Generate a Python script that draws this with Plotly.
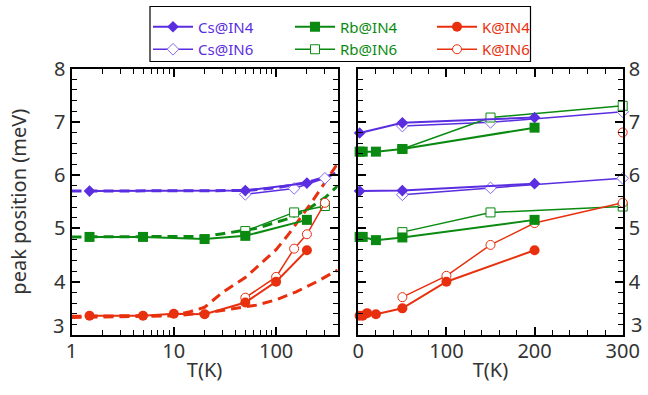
import plotly.graph_objects as go
import math

# ---------------- data ----------------
# Left panel (log T axis)
cs4_L_T = [1.5, 50, 200];                 cs4_L_v = [5.70, 5.71, 5.85]
cs6_L_T = [50, 150, 300];                 cs6_L_v = [5.64, 5.75, 5.94]
rb4_L_T = [1.5, 5, 20, 50, 200];          rb4_L_v = [4.84, 4.84, 4.80, 4.86, 5.16]
rb6_L_T = [50, 150, 300];                 rb6_L_v = [4.95, 5.30, 5.42]
k4_L_T = [1.5, 5, 10, 20, 50, 100, 200];  k4_L_v = [3.36, 3.36, 3.40, 3.39, 3.61, 4.00, 4.59]
k6_L_T = [50, 100, 150, 200, 300];        k6_L_v = [3.70, 4.09, 4.62, 4.89, 5.48]

# Left panel model curves (dashed)
csD_T = [1, 20, 50, 100, 200, 300, 400];                 csD_v = [5.70, 5.70, 5.71, 5.76, 5.86, 5.96, 6.05]
rbD_T = [1, 10, 20, 30, 64, 135, 200, 307, 400];         rbD_v = [4.84, 4.84, 4.85, 4.90, 5.00, 5.19, 5.35, 5.59, 5.80]
kA_T = [1, 10, 14, 20, 30, 50, 70, 100, 135, 230, 400];  kA_v = [3.35, 3.37, 3.43, 3.52, 3.80, 4.08, 4.33, 4.60, 4.91, 5.53, 6.22]
kB_T = [1, 10, 20, 30, 64, 100, 157, 250, 400];          kB_v = [3.33, 3.36, 3.41, 3.46, 3.56, 3.66, 3.81, 4.00, 4.22]

# Right panel (linear T axis)
cs4_R_T = [1.5, 50, 200];                 cs4_R_v = [5.70, 5.71, 5.84]
cs6_R_T = [50, 150, 300];                 cs6_R_v = [5.63, 5.76, 5.94]
cs4b_R_T = [1.5, 50, 200];                cs4b_R_v = [6.79, 6.98, 7.08]
cs6b_R_T = [50, 150, 300];                cs6b_R_v = [6.92, 6.99, 7.19]
rb4_R_T = [1.5, 5, 20, 50, 200];          rb4_R_v = [4.84, 4.84, 4.78, 4.83, 5.16]
rb6_R_T = [50, 150, 300];                 rb6_R_v = [4.93, 5.30, 5.41]
rb4b_R_T = [1.5, 5, 20, 50, 200];         rb4b_R_v = [6.44, 6.44, 6.44, 6.49, 6.89]
rb6b_R_T = [50, 150, 300];                rb6b_R_v = [6.49, 7.08, 7.30]
k4_R_T = [1.5, 5, 10, 20, 50, 100, 200];  k4_R_v = [3.36, 3.36, 3.41, 3.39, 3.50, 4.00, 4.59]
k6_R_T = [50, 100, 150, 200, 300];        k6_R_v = [3.71, 4.11, 4.69, 5.10, 5.48]
k6b_R_T = [300];                          k6b_R_v = [6.80]

# tick labels
y_ticks = [3, 4, 5, 6, 7, 8]
y_ticklabels = ["3", "4", "5", "6", "7", "8"]
xlog_ticks = [1, 10, 100]
xlog_ticklabels = ["1", "10", "100"]
xlin_ticks = [0, 100, 200, 300]
xlin_ticklabels = ["0", "100", "200", "300"]

# ---------------- styles ----------------
PUR = "#5a2ee0"
PUR_L = "#8468ee"
GRN = "#0b8a12"
RED = "#e8300e"
FONT = "Noto Sans"
TXT = "#333333"
LEG = {"Cs": "legend", "Rb": "legend2", "K": "legend3"}

fig = go.Figure()

def add(x, y, name, color, symbol, size, xa, ya, filled, legend=False, rank=0,
        mode="lines+markers", lw=2, mcolor=None):
    mc = mcolor or color
    marker = dict(symbol=symbol, size=size,
                  color=mc if filled else "white",
                  line=dict(color=mc, width=0 if filled else 1))
    fig.add_trace(go.Scatter(
        x=x, y=y, mode=mode, xaxis=xa, yaxis=ya,
        line=dict(color=color, width=lw),
        marker=marker, cliponaxis=False,
        name=f"<span style='color:{color}'>{name}</span>",
        legend=LEG[name.split("@")[0]],
        showlegend=legend, legendrank=rank, hoverinfo="x+y"))

def dashed(x, y, color, xa="x", ya="y"):
    fig.add_trace(go.Scatter(x=x, y=y, mode="lines", xaxis=xa, yaxis=ya,
                             line=dict(color=color, width=3, dash="10px,6px"),
                             showlegend=False, hoverinfo="skip"))

# dashed model curves (left)
dashed(csD_T, csD_v, PUR)
dashed(rbD_T, rbD_v, GRN)
dashed(kA_T, kA_v, RED)
dashed(kB_T, kB_v, RED)

# left panel data: open first, then filled
add(cs6_L_T, cs6_L_v, "Cs@IN6", PUR, "diamond", 9, "x", "y", False, True, 2, lw=1.5, mcolor=PUR_L)
add(rb6_L_T, rb6_L_v, "Rb@IN6", GRN, "square", 9, "x", "y", False, True, 2, lw=1.5)
add(k6_L_T, k6_L_v, "K@IN6", RED, "circle", 9, "x", "y", False, True, 2, lw=1.5)
add(cs4_L_T, cs4_L_v, "Cs@IN4", PUR, "diamond", 9, "x", "y", True, True, 1)
add(rb4_L_T, rb4_L_v, "Rb@IN4", GRN, "square", 10, "x", "y", True, True, 1)
add(k4_L_T, k4_L_v, "K@IN4", RED, "circle", 10, "x", "y", True, True, 1)

# right panel
add(cs6_R_T, cs6_R_v, "Cs@IN6", PUR, "diamond", 9, "x2", "y2", False, lw=1.5, mcolor=PUR_L)
add(cs6b_R_T, cs6b_R_v, "Cs@IN6", PUR, "diamond", 9, "x2", "y2", False, lw=1.5, mcolor=PUR_L)
add(rb6_R_T, rb6_R_v, "Rb@IN6", GRN, "square", 9, "x2", "y2", False, lw=1.5)
add(rb6b_R_T, rb6b_R_v, "Rb@IN6", GRN, "square", 9, "x2", "y2", False, lw=1.5)
add(k6_R_T, k6_R_v, "K@IN6", RED, "circle", 9, "x2", "y2", False, lw=1.5)
add(k6b_R_T, k6b_R_v, "K@IN6", RED, "circle", 9, "x2", "y2", False, mode="markers")
add(cs4_R_T, cs4_R_v, "Cs@IN4", PUR, "diamond", 9, "x2", "y2", True)
add(cs4b_R_T, cs4b_R_v, "Cs@IN4", PUR, "diamond", 9, "x2", "y2", True)
add(rb4_R_T, rb4_R_v, "Rb@IN4", GRN, "square", 10, "x2", "y2", True)
add(rb4b_R_T, rb4b_R_v, "Rb@IN4", GRN, "square", 10, "x2", "y2", True)
add(k4_R_T, k4_R_v, "K@IN4", RED, "circle", 10, "x2", "y2", True)

W, H = 648, 395
def fx(px): return px / W
def fy(py): return (H - py) / H

tickfont = dict(family=FONT, size=20, color=TXT)
titlefont = dict(family=FONT, size=20, color=TXT)
common = dict(showline=True, linecolor="black", linewidth=2, mirror="ticks",
              ticks="inside", ticklen=8, tickwidth=1.5, tickcolor="black",
              showgrid=False, zeroline=False, tickfont=tickfont, automargin=False)
minor_common = dict(ticks="inside", ticklen=5, tickwidth=1.2, tickcolor="black", showgrid=False)

log_minor = [v * d for d in (1, 10, 100) for v in range(2, 10) if v * d < 400]

# the lowest y label ("3") sits a little above its tick in the reference
y_axis_text = [t if t != "3" else "" for t in y_ticklabels]

leg_common = dict(orientation="v", xanchor="left", y=fy(10.5), yanchor="top",
                  bgcolor="rgba(0,0,0,0)", borderwidth=0,
                  font=dict(family=FONT, size=15), itemwidth=40,
                  tracegroupgap=0, traceorder="normal")

fig.update_layout(
    width=W, height=H, margin=dict(l=0, r=0, t=0, b=0, autoexpand=False),
    paper_bgcolor="white", plot_bgcolor="white",
    font=dict(family=FONT, color=TXT),
    xaxis=dict(type="log", domain=[fx(71.5), fx(337.7)], range=[0, math.log10(400)],
               tickmode="array", tickvals=xlog_ticks, ticktext=xlog_ticklabels,
               minor=dict(tickmode="array", tickvals=log_minor, **minor_common),
               title=dict(text="T(K)", font=titlefont, standoff=0),
               ticklabelstandoff=-3, anchor="y", **common),
    yaxis=dict(domain=[fy(335), fy(68.5)], range=[3, 8],
               tickmode="array", tickvals=y_ticks, ticktext=y_axis_text,
               minor=dict(dtick=0.2, **minor_common),
               title=dict(text="peak position (meV)", font=titlefont, standoff=22),
               anchor="x", **common),
    xaxis2=dict(domain=[fx(358.3), fx(622.7)], range=[0, 300],
                tickmode="array", tickvals=xlin_ticks, ticktext=xlin_ticklabels,
                minor=dict(dtick=20, **minor_common),
                title=dict(text="T(K)", font=titlefont, standoff=0),
                ticklabelstandoff=-3, anchor="y2", **common),
    yaxis2=dict(domain=[fy(335), fy(68.5)], range=[3, 8], side="right",
                tickmode="array", tickvals=y_ticks, ticktext=y_axis_text,
                minor=dict(dtick=0.2, **minor_common),
                anchor="x2", **common),
    legend=dict(x=fx(148), **leg_common),
    legend2=dict(x=fx(290), **leg_common),
    legend3=dict(x=fx(432), **leg_common),
    shapes=[dict(type="rect", xref="paper", yref="paper",
                 x0=fx(150), x1=fx(530.5), y0=fy(61.5), y1=fy(6.5),
                 line=dict(color="black", width=1.2), fillcolor="white", layer="below")],
    annotations=[
        dict(text=y_ticklabels[0], x=fx(66), xref="paper", xanchor="right",
             y=y_ticks[0], yref="y", yanchor="middle", yshift=10, showarrow=False,
             font=tickfont),
        dict(text=y_ticklabels[0], x=fx(629), xref="paper", xanchor="left",
             y=y_ticks[0], yref="y2", yanchor="middle", yshift=11, showarrow=False,
             font=tickfont),
    ],
    showlegend=True,
)

fig.write_html("out.html")
